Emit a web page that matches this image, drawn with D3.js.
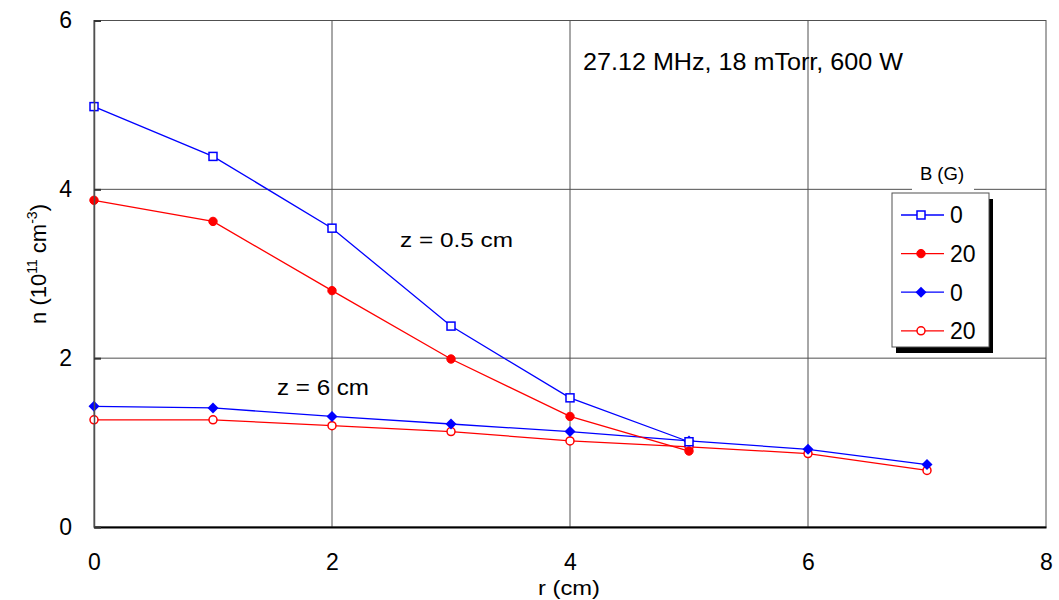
<!DOCTYPE html>
<html>
<head>
<meta charset="utf-8">
<script src="https://cdn.jsdelivr.net/npm/d3@7"></script>
<style>
  html, body { margin: 0; padding: 0; background: #fff; }
  svg { display: block; font-family: "Liberation Sans", Arial, Helvetica, sans-serif; }
</style>
</head>
<body>
<svg id="chart" width="1059" height="600"></svg>
<script>
// Radial position r (cm)
const rValues = [0, 1, 2, 3, 4, 5, 6, 7];

// Electron density n (10^11 cm^-3), z = 0.5 cm
const nZ05B0  = [4.98, 4.39, 3.54, 2.38, 1.53, 1.01];
const nZ05B20 = [3.87, 3.62, 2.80, 1.99, 1.31, 0.90];
// Electron density n (10^11 cm^-3), z = 6 cm
const nZ6B0   = [1.43, 1.41, 1.31, 1.22, 1.13, 1.02, 0.92, 0.74];
const nZ6B20  = [1.27, 1.27, 1.20, 1.13, 1.02, 0.95, 0.87, 0.67];

const xTicks = [0, 2, 4, 6, 8];
const yTicks = [0, 2, 4, 6];
const legendLabels = ["0", "20", "0", "20"];

const series = [
  { values: nZ05B0,  color: "#0000ff", marker: "square" },
  { values: nZ05B20, color: "#ff0000", marker: "dot" },
  { values: nZ6B0,   color: "#0000ff", marker: "diamond" },
  { values: nZ6B20,  color: "#ff0000", marker: "circle" }
];

const W = 1059, H = 600;
const m = { left: 94, right: 13, top: 20.5, bottom: 73 };
const svg = d3.select("#chart");

const x = d3.scaleLinear().domain([0, 8]).range([m.left, W - m.right]);
const y = d3.scaleLinear().domain([0, 6]).range([H - m.bottom, m.top]);

const g = svg.append("g");

// grid lines
g.selectAll("line.vgrid").data(xTicks.slice(1, -1)).join("line")
  .attr("x1", d => x(d)).attr("x2", d => x(d))
  .attr("y1", y(0)).attr("y2", y(6))
  .attr("stroke", "#505050").attr("stroke-width", 1);
g.selectAll("line.hgrid").data(yTicks.slice(1, -1)).join("line")
  .attr("x1", x(0)).attr("x2", x(8))
  .attr("y1", d => y(d)).attr("y2", d => y(d))
  .attr("stroke", "#505050").attr("stroke-width", 1);

// plot frame
g.append("rect")
  .attr("x", x(0)).attr("y", y(6))
  .attr("width", x(8) - x(0)).attr("height", y(0) - y(6))
  .attr("fill", "none").attr("stroke", "#505050").attr("stroke-width", 1);

// axes
const xAxis = d3.axisBottom(x).tickValues(xTicks).tickFormat(d3.format("d"))
  .tickSize(0).tickPadding(27);
const yAxis = d3.axisLeft(y).tickValues(yTicks).tickFormat(d3.format("d"))
  .tickSize(-7).tickPadding(22);

const gx = svg.append("g").attr("transform", `translate(0,${y(0)})`).call(xAxis);
gx.select(".domain").attr("stroke", "#000").attr("stroke-width", 2);
gx.selectAll("text").attr("font-size", 23).attr("fill", "#000")
  .attr("font-family", "'Liberation Sans', Arial, sans-serif");

const gy = svg.append("g").attr("transform", `translate(${x(0)},0)`).call(yAxis);
gy.select(".domain").attr("stroke", "#505050").attr("stroke-width", 1.5);
gy.selectAll(".tick line").attr("stroke", "#333").attr("stroke-width", 2);
gy.selectAll("text").attr("font-size", 23).attr("fill", "#000")
  .attr("font-family", "'Liberation Sans', Arial, sans-serif");

// axis titles
svg.append("text")
  .attr("x", 538).attr("y", 595).attr("font-size", 21)
  .attr("textLength", 62).attr("lengthAdjust", "spacingAndGlyphs")
  .text("r (cm)");

const yl = svg.append("text")
  .attr("transform", "translate(46,264) rotate(-90)")
  .attr("text-anchor", "middle").attr("font-size", 22);
yl.append("tspan").text("n (10");
yl.append("tspan").attr("dy", -9).attr("font-size", 14).text("11");
yl.append("tspan").attr("dy", 9).text(" cm");
yl.append("tspan").attr("dy", -9).attr("font-size", 14).text("-3");
yl.append("tspan").attr("dy", 9).text(")");

// annotations
svg.append("text").attr("x", 583).attr("y", 70).attr("font-size", 24)
  .attr("textLength", 320).attr("lengthAdjust", "spacingAndGlyphs")
  .text("27.12 MHz, 18 mTorr, 600 W");
svg.append("text").attr("x", 400).attr("y", 247).attr("font-size", 21)
  .attr("textLength", 113).attr("lengthAdjust", "spacingAndGlyphs")
  .text("z = 0.5 cm");
svg.append("text").attr("x", 277).attr("y", 395).attr("font-size", 21.5)
  .attr("textLength", 92).attr("lengthAdjust", "spacingAndGlyphs")
  .text("z = 6 cm");

// marker drawing
function drawMarker(sel, type, color) {
  if (type === "square") {
    sel.append("rect").attr("x", -4).attr("y", -4).attr("width", 8).attr("height", 8)
      .attr("fill", "#fff").attr("stroke", color).attr("stroke-width", 1.5);
  } else if (type === "dot") {
    sel.append("circle").attr("r", 4.2).attr("fill", color).attr("stroke", color);
  } else if (type === "diamond") {
    sel.append("path").attr("d", "M0,-5.5L5.5,0L0,5.5L-5.5,0Z").attr("fill", color);
  } else {
    sel.append("circle").attr("r", 4).attr("fill", "#fff")
      .attr("stroke", color).attr("stroke-width", 1.5);
  }
}

const line = d3.line().x((d, i) => x(rValues[i])).y(d => y(d));

// draw in reverse so the z = 0.5 cm curves sit on top
series.slice().reverse().forEach(s => {
  g.append("path").datum(s.values)
    .attr("d", line).attr("fill", "none")
    .attr("stroke", s.color).attr("stroke-width", 1.3);
  g.selectAll(null).data(s.values).join("g")
    .attr("transform", (d, i) => `translate(${x(rValues[i])},${y(d)})`)
    .each(function () { drawMarker(d3.select(this), s.marker, s.color); });
});

// legend
const lg = svg.append("g");
const lx = 892, ly = 193, lw = 97, lh = 154;
lg.append("rect").attr("x", 912).attr("y", 162).attr("width", 62).attr("height", 28).attr("fill", "#fff");
lg.append("text").attr("x", 942).attr("y", 180).attr("text-anchor", "middle")
  .attr("font-size", 18.5).text("B (G)");
lg.append("rect").attr("x", lx + 4).attr("y", ly + 6).attr("width", lw).attr("height", lh).attr("fill", "#000");
lg.append("rect").attr("x", lx).attr("y", ly).attr("width", lw).attr("height", lh)
  .attr("fill", "#fff").attr("stroke", "#505050").attr("stroke-width", 1);
series.forEach((s, i) => {
  const yy = 215 + i * 38.6;
  lg.append("line").attr("x1", 901).attr("x2", 944).attr("y1", yy).attr("y2", yy)
    .attr("stroke", s.color).attr("stroke-width", 1.3);
  const mk = lg.append("g").attr("transform", `translate(921,${yy})`);
  drawMarker(mk, s.marker, s.color);
  lg.append("text").attr("x", 950).attr("y", yy + 8.3).attr("font-size", 23).text(legendLabels[i]);
});
</script>
</body>
</html>
